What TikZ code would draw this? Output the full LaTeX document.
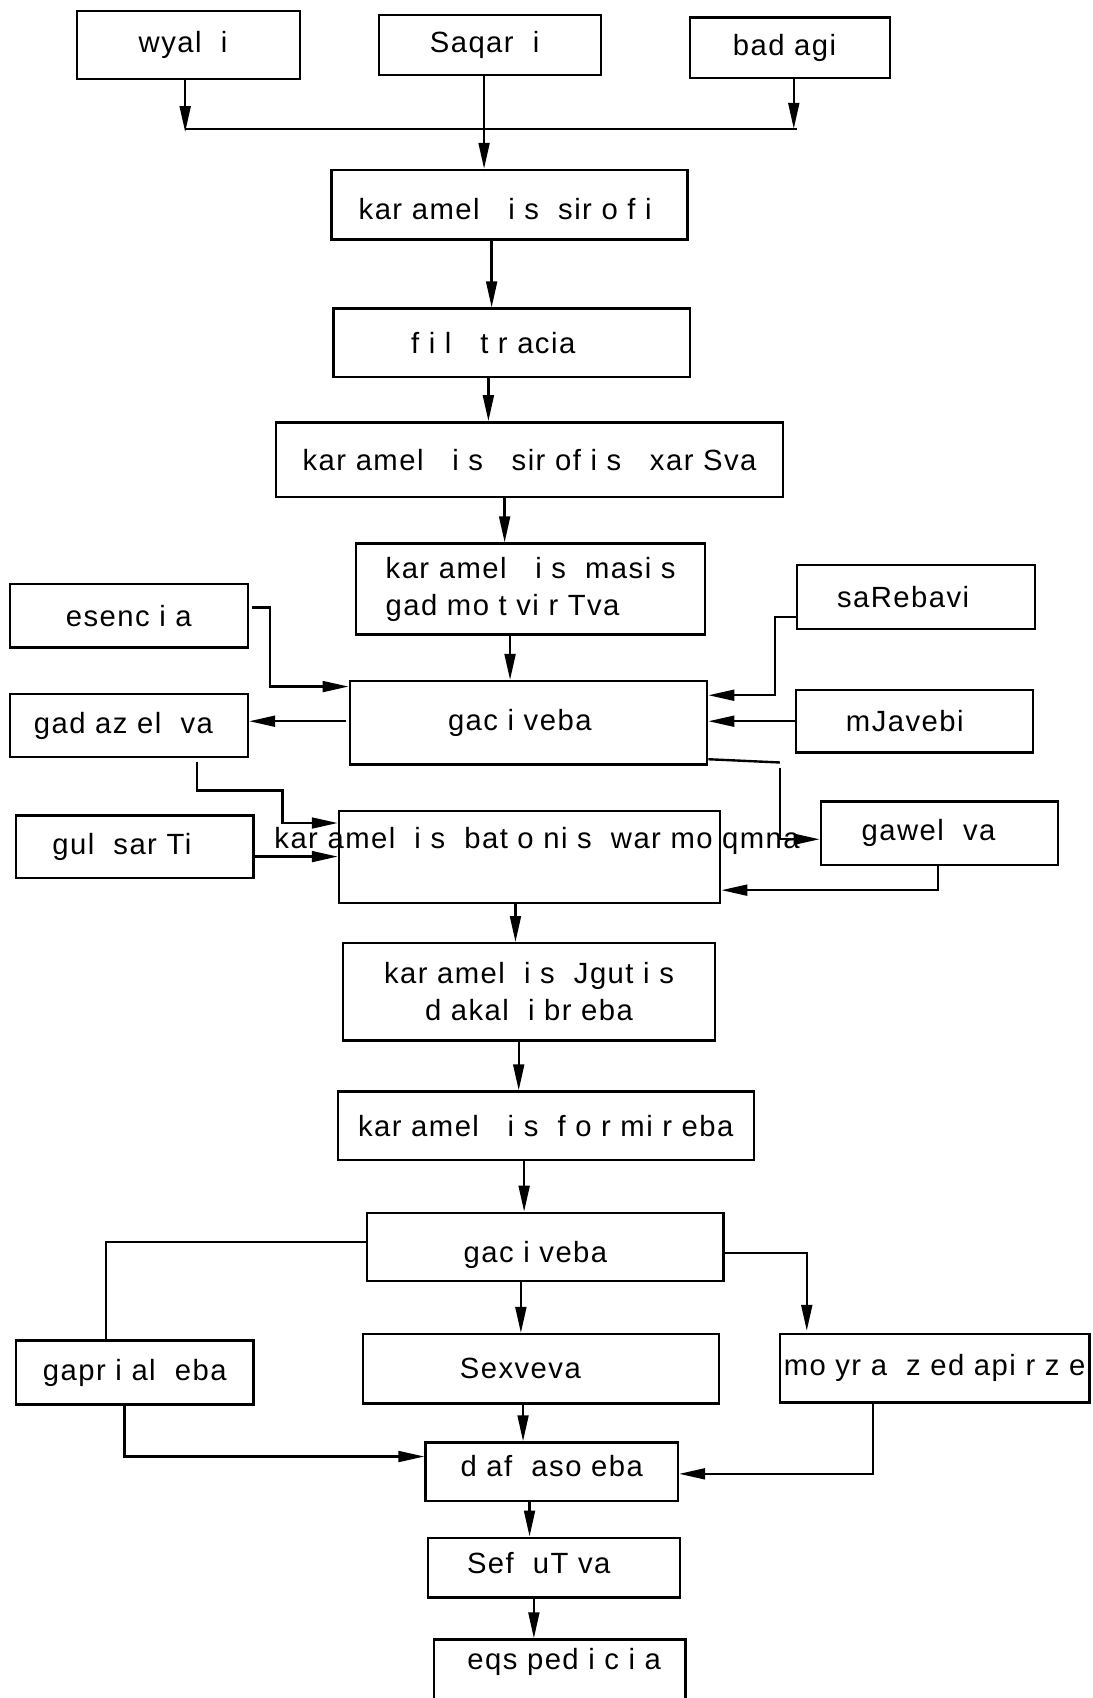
\documentclass[tikz,border=0pt]{standalone}
\usepackage{fontspec}
\setmainfont{Liberation Sans}[LetterSpace=5]
\usetikzlibrary{arrows.meta,calc}
\newcommand{\vmove}[2]{\raisebox{#1}[\height][\depth]{#2}}
\tikzset{
  box/.style={draw,line width=2.2pt,rectangle,inner sep=0pt,font=\fontsize{27}{34}\selectfont},
  txt/.style={inner sep=0pt,font=\fontsize{27}{34}\selectfont},
  con/.style={line width=2.2pt},
  arr/.style={line width=2.2pt,-{Triangle[length=24pt,width=10pt]}}
}
\begin{document}
\begin{tikzpicture}[x=1pt,y=-1pt]
\useasboundingbox (0,0) rectangle (1009,1568);
\fill[white] (0,0) rectangle (1009,1568);
\clip (0,0) rectangle (1009,1568);
% boxes
\node[box,minimum width=206,minimum height=63] (wyali) at (174,41.5) {\hspace*{-10pt}wyal\ \ i};
\node[box,minimum width=205,minimum height=55] (saqari) at (452.5,41.5) {\hspace*{-10pt}Saqar\ \ i};
\node[box,minimum width=185,minimum height=56] (badagi) at (729.5,44) {\hspace*{-10pt}bad agi};
\node[box,minimum width=329,minimum height=64] (sirofi) at (470.5,189) {\hspace*{-8pt}\vmove{-4pt}{kar amel\ \ \ i s\ \ sir o f i}};
\node[box,minimum width=329,minimum height=63] (filtr) at (472.5,316.5) {\hspace*{-34pt}f i l\ \ \ t r acia};
\node[box,minimum width=468,minimum height=69] (xarSva) at (489,424.5) {kar amel\ \ \ i s\ \ \ sir of i s\ \ \ xar Sva};
\node[box,minimum width=322,minimum height=84,align=left] (masis) at (490,544) {kar amel\ \ \ i s\ \ masi s\\gad mo t vi r Tva\hspace*{30pt}};
\node[box,minimum width=220,minimum height=59] (esencia) at (119,568.5) {esenc i a};
\node[box,minimum width=220,minimum height=59] (saRebavi) at (846,551.5) {\hspace*{-24pt}saRebavi};
\node[box,minimum width=330,minimum height=77] (gac1) at (488,667.5) {\hspace*{-16pt}gac i veba};
\node[box,minimum width=220,minimum height=58] (gadazelva) at (119,670) {\hspace*{-10pt}gad az el\ \ va};
\node[box,minimum width=219,minimum height=58] (mJavebi) at (844.5,666) {\hspace*{-18pt}mJavebi};
\node[box,minimum width=219,minimum height=58] (gulsarTi) at (124.5,782) {\hspace*{-24pt}gul\ \ sar Ti};
\node[box,minimum width=352,minimum height=85] (batonis) at (489,791.5) {};
\node[box,minimum width=219,minimum height=59] (gawelva) at (867.5,769.5) {\hspace*{-20pt}gawel\ \ va};
\node[box,minimum width=343,minimum height=90,align=center] (Jgutis) at (488.5,916) {kar amel\ \ i s\ \ Jgut i s\\d akal\ \ i br eba};
\node[box,minimum width=384,minimum height=63] (formireba) at (504,1039.5) {kar amel\ \ \ i s\ \ f o r mi r eba};
\node[box,minimum width=329,minimum height=63] (gac2) at (503.5,1151.5) {\hspace*{-18pt}\vmove{-7pt}{gac i veba}};
\node[box,minimum width=219,minimum height=59] (gaprial) at (124.5,1267.5) {gapr i al\ \ eba};
\node[box,minimum width=329,minimum height=64] (Sexveva) at (499.5,1264) {\hspace*{-38pt}Sexveva};
\node[box,minimum width=286,minimum height=63] (moyra) at (863,1263.5) {mo yr a\ \ z ed api r z e};
\node[box,minimum width=233,minimum height=54] (dafas) at (509.5,1359) {\vmove{5pt}{d af\ \ aso eba}};
\node[box,minimum width=233,minimum height=55] (Sefutva) at (511.5,1447.5) {\hspace*{-28pt}\vmove{4pt}{Sef\ \ uT va}};
\node[box,minimum width=232,minimum height=90] (eqsp) at (517,1559) {};
\node[txt] (eqspT) at (521,1535) {eqs ped i c i a};
\node[txt] (batonisT) at (496,777) {kar amel\ \ i s\ \ bat o ni s\ \ war mo qmna};
% top bus
\coordinate (busL) at (171,119);
\coordinate (busR) at (736,119);
\draw[con] (busL) -- (busR);
\draw[arr] ($(wyali.south)+(-3,0)$) -- ($(busL)+(0,3)$);
\draw[arr] ($(badagi.south)+(3.5,0)$) -- ($(busR)+(-3,0)$);
\draw[arr] ($(saqari.south)+(-5.5,0)$) -- ($(sirofi.north)+(-23.5,0)$);
% main chain
\draw[arr] ($(sirofi.south)+(-16.5,0)$) -- ($(filtr.north)+(-18.5,0)$);
\draw[arr] ($(filtr.south)+(-21.5,0)$) -- ($(xarSva.north)+(-38,0)$);
\draw[arr] ($(xarSva.south)+(-23,0)$) -- ($(masis.north)+(-24,0)$);
\draw[arr] ($(masis.south)+(-19,0)$) -- ($(gac1.north)+(-17,0)$);
% around gaciveba 1
\draw[arr] ($(esencia.east)+(3,-7.5)$) -- ++(16,0) |- ($(gac1.west)+(0,-33.5)$);
\draw[arr] ($(saRebavi.west)+(0,18.5)$) -- ++(-19,0) |- ($(gac1.east)+(0,-25.5)$);
\draw[arr] (mJavebi.west) -- (mJavebi.west -| gac1.east);
\draw[arr] ($(gac1.west)+(-2,-1.5)$) -- ($(gadazelva.east)+(0,-4)$);
\draw[con] ($(gac1.south east)+(0,-6)$) -- ++(66,3);
\draw[arr] ($(gac1.south east)+(66,2)$) |- ($(gawelva.west)+(0,5.5)$);
% around batonis
\draw[arr] ($(gadazelva.south)+(63,4)$) -- ++(0,26) -- ++(79,0) |- ($(batonis.west)+(0,-31.5)$);
\draw[arr] ($(gulsarTi.east)+(0,9)$) -- ($(batonis.west)+(0,-0.5)$);
\draw[arr] ($(gawelva.south)+(-1.5,0)$) |- ($(batonis.east)+(0,30.5)$);
\draw[arr] ($(batonis.south)+(-13,0)$) -- ($(Jgutis.north)+(-12.5,0)$);
\draw[arr] ($(Jgutis.south)+(-9.5,0)$) -- ($(formireba.north)+(-25,0)$);
\draw[arr] ($(formireba.south)+(-20,0)$) -- ($(gac2.north)+(-19.5,0)$);
% around gaciveba 2
\draw[con] ($(gac2.west)+(0,-4.5)$) -| ($(gaprial.north)+(-26.5,0)$);
\draw[arr] ($(gac2.south)+(-22.5,0)$) -- ($(Sexveva.north)+(-18.5,0)$);
\draw[arr] ($(gac2.east)+(0,5.5)$) -| ($(moyra.north)+(-118,-2)$);
\draw[arr] ($(Sexveva.south)+(-16.5,0)$) -- ($(dafas.north)+(-26.5,0)$);
\draw[arr] ($(gaprial.south)+(-9.5,0)$) |- ($(dafas.west)+(0,-14)$);
\draw[arr] ($(moyra.south)+(-57,0)$) |- ($(dafas.east)+(0,2)$);
\draw[arr] ($(dafas.south)+(-20.5,0)$) -- ($(Sefutva.north)+(-22.5,0)$);
\draw[arr] ($(Sefutva.south)+(-18.5,0)$) -- ($(eqsp.north)+(-24,0)$);
\end{tikzpicture}
\end{document}
